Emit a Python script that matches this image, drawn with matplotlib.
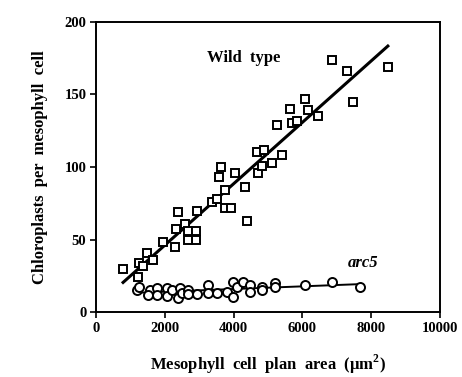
import numpy as np
import matplotlib
matplotlib.use("Agg")
import matplotlib.pyplot as plt

plt.rcParams['font.family'] = ['Liberation Serif', 'DejaVu Serif']
plt.rcParams['font.weight'] = 'bold'
plt.rcParams['mathtext.fontset'] = 'custom'
plt.rcParams['mathtext.rm'] = 'Liberation Serif:bold'

# wild type: cell plan area (um^2) vs chloroplast number
wt_area = [785, 1250, 1360, 1483, 1657, 1221, 1948, 2297, 2326, 2384, 2587,
           2674, 2907, 2907, 2674, 2936, 3372, 3634, 3576, 3517, 3750, 3750,
           3924, 4041, 4331, 4390, 4680, 4709, 4826, 5116, 5407, 4884, 5262,
           5698, 5843, 5640, 6163, 6076, 6453, 7471, 6860, 7297, 8488]
wt_count = [30, 34, 32, 41, 36, 24, 48, 45, 57, 69, 61,
            56, 56, 50, 50, 70, 76, 100, 93, 78, 84, 72,
            72, 96, 86, 63, 110, 96, 101, 103, 108, 112, 129,
            130, 132, 140, 139, 147, 135, 145, 174, 166, 169]

# arc5 mutant
arc_area = [1192, 1250, 1570, 1512, 1773, 1773, 2064, 2064, 2209, 2384, 2442,
            2500, 2674, 2674, 2936, 3256, 3256, 3517, 3808, 3983, 3983, 4099,
            4273, 4477, 4477, 4826, 4826, 5203, 5203, 6076, 6860, 7674]
arc_count = [15, 17, 15, 12, 16.5, 12, 16.5, 11, 15, 10, 16.5,
             13, 15, 12.5, 12.5, 18.5, 13, 13, 14, 20.5, 10.5, 17,
             21, 18.5, 14, 17, 15, 20, 17, 18.5, 20.5, 17]

fig = plt.figure(figsize=(4.62, 3.77), dpi=100)
ax = fig.add_axes([0.208, 0.172, 0.744, 0.770])

# regression lines over the range of each data set
for xs, ys in [(wt_area, wt_count), (arc_area, arc_count)]:
    k, b = np.polyfit(xs, ys, 1)
    xx = np.array([min(xs), max(xs)])
    lw = 2.2 if xs is wt_area else 1.4
    ax.plot(xx, k * xx + b, color="black", lw=lw, zorder=1)

ax.plot(wt_area, wt_count, "s", ms=6, mfc="white", mec="black", mew=1.4, zorder=2)
ax.plot(arc_area, arc_count, "o", ms=6.5, mfc="white", mec="black", mew=1.4, zorder=2)

ax.text(4290, 175, "Wild  type", fontsize=12, fontweight="bold", ha="center", va="center")
ax.text(7760, 34, "arc5", fontsize=12, fontweight="bold", style="italic",
        ha="center", va="center")

ax.set_xlim(0, 10000)
ax.set_ylim(0, 200)
ax.set_xticks([0, 2000, 4000, 6000, 8000, 10000])
ax.set_yticks([0, 50, 100, 150, 200])
ax.tick_params(direction="out", length=4, width=1.2, labelsize=10.5, pad=3)
for sp in ax.spines.values():
    sp.set_linewidth(1.4)

ax.set_xlabel("Mesophyll  cell  plan  area  (\u03bcm$^2$)", fontsize=12,
              fontweight="bold", labelpad=13)
ax.set_ylabel("Chloroplasts  per  mesophyll  cell", fontsize=12,
              fontweight="bold", labelpad=12)

fig.savefig("out.png", dpi=100)
